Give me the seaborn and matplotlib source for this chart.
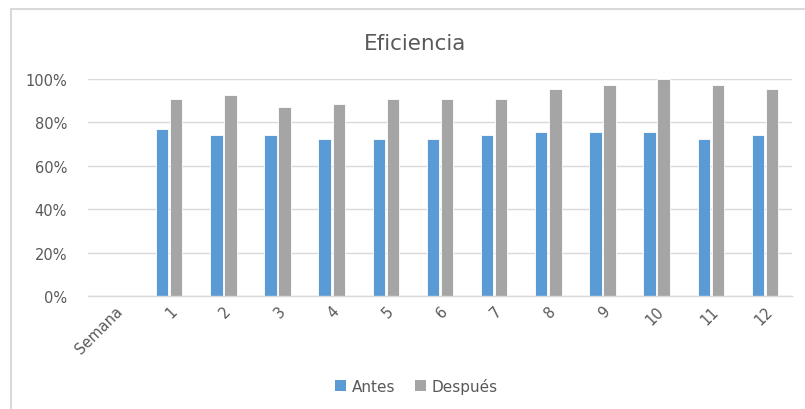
import numpy as np
import pandas as pd
import matplotlib
matplotlib.use("Agg")
import matplotlib.pyplot as plt
from matplotlib.lines import Line2D
from matplotlib.patches import Patch
import seaborn as sns

categories = ["Semana", "1", "2", "3", "4", "5", "6", "7", "8", "9", "10", "11", "12"]
antes = [np.nan, 0.77, 0.74, 0.74, 0.724, 0.724, 0.724, 0.74, 0.754, 0.754, 0.754, 0.724, 0.74]
despues = [np.nan, 0.906, 0.928, 0.87, 0.886, 0.906, 0.906, 0.906, 0.952, 0.974, 1.0, 0.974, 0.952]
series_names = ["Antes", "Después"]
colors = ["#5B9BD5", "#A5A5A5"]
yticks = [0, 0.2, 0.4, 0.6, 0.8, 1.0]
ytick_labels = ["0%", "20%", "40%", "60%", "80%", "100%"]

df = pd.DataFrame({
    "cat": categories * 2,
    "serie": [series_names[0]] * len(categories) + [series_names[1]] * len(categories),
    "val": antes + despues,
})

sns.set_theme(style="white")
plt.rcParams["font.family"] = ["DejaVu Sans"]
text_color = "#595959"
grid_color = "#D9D9D9"

fig = plt.figure(figsize=(8.05, 4.10), dpi=100)
ax = fig.add_axes([88 / 805, 1 - 297 / 410, (792 - 88) / 805, (297 - 80) / 410])

sns.barplot(data=df, x="cat", y="val", hue="serie", order=categories,
            hue_order=series_names, palette=colors, width=0.52, gap=0.12,
            edgecolor="white", linewidth=0.6, saturation=1, ax=ax, legend=False)

ax.set_ylim(0, 1.0)
ax.set_yticks(yticks)
ax.set_yticklabels(ytick_labels)
ax.yaxis.grid(True, color=grid_color, linewidth=1)
ax.set_axisbelow(True)
for s in ["top", "right", "left"]:
    ax.spines[s].set_visible(False)
ax.spines["bottom"].set_color(grid_color)
ax.spines["bottom"].set_linewidth(1)
ax.set_xlabel("")
ax.set_ylabel("")
ax.tick_params(axis="both", length=0, colors=text_color, labelsize=10.5)
ax.tick_params(axis="y", pad=15)
ax.tick_params(axis="x", pad=5)
for lbl in ax.get_xticklabels():
    lbl.set_rotation(45)
    lbl.set_ha("right")
    lbl.set_rotation_mode("anchor")

fig.text(0.515, 1 - 44 / 410, "Eficiencia", ha="center", va="center",
         fontsize=15.5, color=text_color)

handles = [Patch(facecolor=c, edgecolor="none") for c in colors]
fig.legend(handles, series_names, loc="center", bbox_to_anchor=(0.517, 1 - 387 / 410),
           ncol=2, frameon=False, fontsize=11, labelcolor=text_color,
           handlelength=0.75, handleheight=0.75, handletextpad=0.35, columnspacing=1.3)

# outer chart border (left and top)
fig.add_artist(Line2D([11 / 805, 11 / 805], [0, 1 - 10 / 410], transform=fig.transFigure,
                      color=grid_color, linewidth=1.5))
fig.add_artist(Line2D([11 / 805, 1], [1 - 10 / 410, 1 - 10 / 410], transform=fig.transFigure,
                      color=grid_color, linewidth=1.5))

fig.savefig("out.png", dpi=100)
